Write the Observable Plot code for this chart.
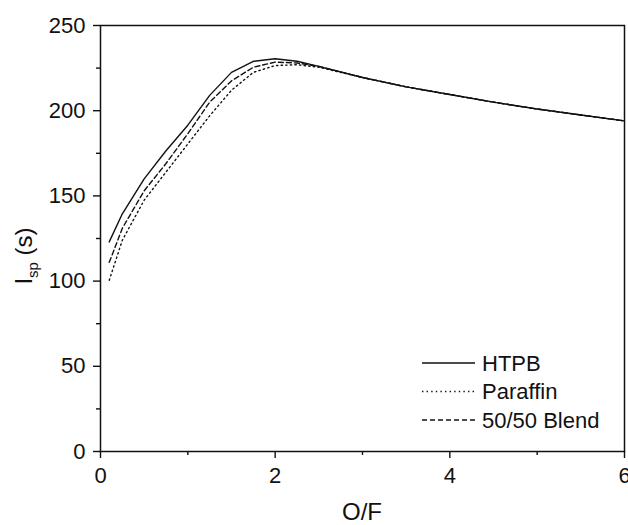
<!DOCTYPE html>
<html>
<head>
<meta charset="utf-8">
<script src="https://cdn.jsdelivr.net/npm/d3@7"></script>
<script src="https://cdn.jsdelivr.net/npm/@observablehq/plot@0.6"></script>
<style>
  html, body { margin: 0; padding: 0; background: #fff; }
  #chart { width: 628px; height: 525px; }
</style>
</head>
<body>
<div id="chart"></div>
<script>
// O/F ratio values
const ofRatio = [0.1, 0.25, 0.5, 0.75, 1, 1.25, 1.5, 1.75, 2, 2.25, 2.5, 3, 3.5, 4, 4.5, 5, 5.5, 6];
// Isp (s) per fuel
const ispHTPB     = [123, 139.5, 160, 176.5, 191.5, 209, 222.5, 229, 230.5, 229, 226, 219.5, 214, 209.5, 205, 201, 197.5, 194];
const ispParaffin = [100.5, 124, 147.5, 164, 180.5, 197, 212, 222.5, 226.5, 227, 225.5, 219.5, 214, 209.5, 205, 201, 197.5, 194];
const ispBlend    = [111, 131, 153, 169, 186.5, 205, 217.5, 225.5, 228.5, 228, 226, 219.5, 214, 209.5, 205, 201, 197.5, 194];
const seriesNames = ["HTPB", "Paraffin", "50/50 Blend"];
const xMajorTicks = [0, 2, 4, 6];
const xMinorTicks = [1, 3, 5];
const yMajorTicks = [0, 50, 100, 150, 200, 250];
const yMinorTicks = [25, 75, 125, 175, 225];

const seriesValues = [ispHTPB, ispParaffin, ispBlend];
const dashes = [null, "1.4,3.2", "5,3"];
const rows = [];
seriesNames.forEach((name, i) => ofRatio.forEach((x, j) => rows.push({series: name, of: x, isp: seriesValues[i][j]})));

const W = 628, H = 525, mL = 100, mR = 4, mT = 25, mB = 74;
const font = "'Liberation Sans', Arial, Helvetica, sans-serif";
const ink = "#111";

const lineMarks = seriesNames.map((name, i) =>
  Plot.line(rows.filter(d => d.series === name), {
    x: "of", y: "isp", stroke: ink, strokeWidth: 1.4,
    strokeDasharray: dashes[i], strokeLinejoin: "round"
  })
);

const plot = Plot.plot({
  width: W, height: H,
  marginLeft: mL, marginRight: mR, marginTop: mT, marginBottom: mB,
  x: {domain: [0, 6]},
  y: {domain: [0, 250]},
  style: {fontFamily: font, fontSize: "22px", color: ink, background: "#fff"},
  marks: [
    Plot.axisX({ticks: xMajorTicks, tickSize: 7, tickPadding: 9, tickFormat: d => String(d), label: null, fontSize: 22, strokeWidth: 1.4}),
    Plot.axisX({ticks: xMinorTicks, tickSize: 4, tickFormat: () => "", label: null, strokeWidth: 1.4}),
    Plot.axisY({ticks: yMajorTicks, tickSize: 7, tickPadding: 8, tickFormat: d => String(d), label: null, fontSize: 22, strokeWidth: 1.4}),
    Plot.axisY({ticks: yMinorTicks, tickSize: 4, tickFormat: () => "", label: null, strokeWidth: 1.4}),
    ...lineMarks,
    Plot.frame({stroke: ink, strokeWidth: 1.5})
  ]
});

const svg = d3.select(plot);
// x-axis title
svg.append("text")
  .attr("x", mL + (W - mL - mR) / 2).attr("y", 520)
  .attr("text-anchor", "middle")
  .attr("font-family", font).attr("font-size", 24).attr("fill", ink)
  .text("O/F");
// y-axis title with subscript
const yt = svg.append("text")
  .attr("transform", `translate(32,256) rotate(-90)`)
  .attr("text-anchor", "middle")
  .attr("font-family", font).attr("font-size", 24).attr("fill", ink);
yt.append("tspan").text("I");
yt.append("tspan").attr("font-size", 15).attr("dy", 6).text("sp");
yt.append("tspan").attr("dy", -6).text("\u00a0(s)");

// legend
const lg = svg.append("g");
seriesNames.forEach((name, i) => {
  const y = 363 + i * 28.5;
  lg.append("line").attr("x1", 422).attr("x2", 475).attr("y1", y).attr("y2", y)
    .attr("stroke", ink).attr("stroke-width", 1.4)
    .attr("stroke-dasharray", dashes[i]);
  lg.append("text").attr("x", 482).attr("y", y).attr("dy", "0.36em")
    .attr("text-anchor", "start")
    .attr("font-family", font).attr("font-size", 22).attr("fill", ink)
    .text(name);
});

document.getElementById("chart").appendChild(plot);
</script>
</body>
</html>
